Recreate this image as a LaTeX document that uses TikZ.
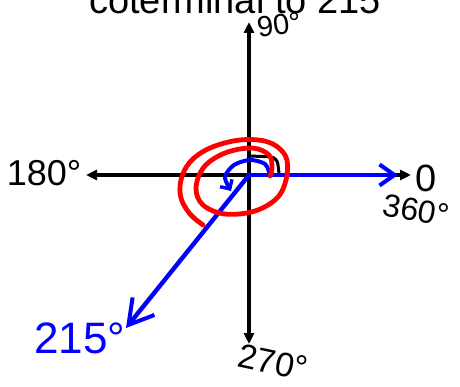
\documentclass[tikz,border=0pt]{standalone}
\usepackage{fontspec}
\setmainfont{Liberation Sans}
\usetikzlibrary{arrows.meta}

\begin{document}
\begin{tikzpicture}[x=1pt,y=-1pt,
  axis/.style={line width=3.2pt,-{Triangle[length=11pt,width=10pt]}},
  hand/.style={inner sep=0pt,font=\fontsize{#1}{#1}\selectfont},
  ray/.style={blue,line width=4.4pt,line cap=round},
  spiral/.style={red,line width=4.8pt,line cap=round,line join=round}]
\useasboundingbox (0,0) rectangle (460,387);
\clip (0,0) rectangle (460,387);
% axes
\coordinate (O) at (249,175);
\coordinate (top) at (249,22);
\coordinate (bottom) at (249,344);
\coordinate (left) at (86,175);
\coordinate (right) at (411,175);
\foreach \e in {top,bottom,left,right} {
   \draw[axis] (O) -- (\e);
}
% title, cut by the top edge
\node[hand=38,anchor=base] (title) at (235,14) {coterminal to 215};
% angle labels
\node[hand=29,rotate=8] (lab90) at (279,25) {90°};
\node[hand=36] (lab180) at (44,173) {180°};
\node[hand=38] (lab0) at (426,178) {0};
\node[hand=32,rotate=-10] (lab360) at (416,210) {360°};
\node[hand=34,rotate=-12] (lab270) at (273,362) {270°};
\node[hand=44,blue] (lab215) at (80,338) {215°};
% terminal sides
\coordinate (end0) at (398,175);
\coordinate (end215) at (126,328);
\draw[ray,-{Straight Barb[length=15pt,width=21pt,line width=4pt]}] (O) -- (end0);
\draw[ray,-{Straight Barb[length=24pt,width=28pt,line width=4pt]}] (O) -- (end215);
% small arcs
\draw[line width=3pt,rounded corners=7pt] (249,156) -- (277,157) -- (279,173);
\draw[ray,line width=4pt,-{Straight Barb[length=7pt,width=14pt,line width=3.4pt]}]
   plot[smooth] coordinates {(270,175) (265,164) (250,160) (234,165) (225,177) (231,191)};
% spiral, one full turn and more
\draw[spiral] plot[smooth,tension=0.6] coordinates {(203,225) (190,214) (181,198) (181,180)
   (190,162) (210,148) (240,140) (268,142) (285,155) (287,175) (278,197) (255,211)
   (225,214) (203,205) (196,188) (204,167) (225,153) (252,148) (269,155) (272,168) (270,176)};
\end{tikzpicture}
\end{document}
